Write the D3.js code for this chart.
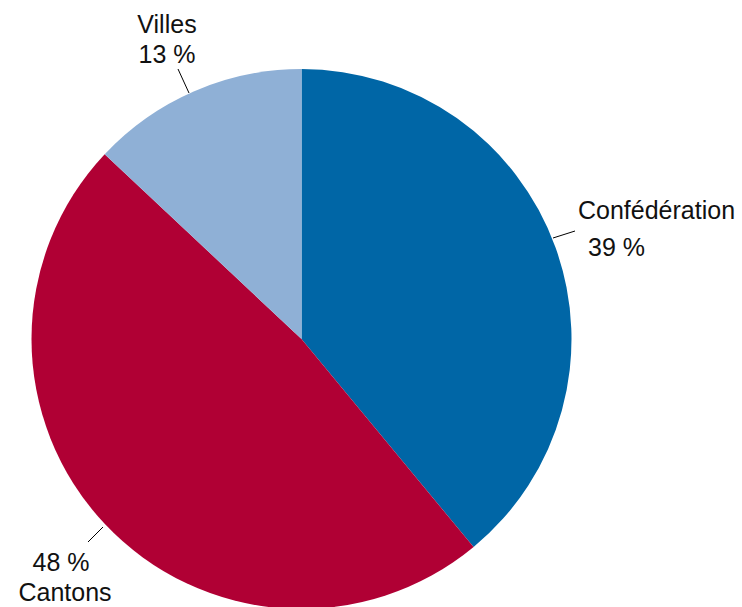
<!DOCTYPE html>
<html><head><meta charset="utf-8">
<script src="https://cdn.jsdelivr.net/npm/d3@7"></script>
<style>html,body{margin:0;padding:0;background:#fff;overflow:hidden}</style>
</head><body>
<svg id="chart" width="742" height="607"></svg>
<script>
const categories = ["Confédération", "Cantons", "Villes"];
const values = [39, 48, 13];
const valueLabels = ["39 %", "48 %", "13 %"];
const colors = ["#0066a6", "#b00034", "#8fb0d6"];

const svg = d3.select("#chart");
const cx = 301.5, cy = 339, r = 270;
const g = svg.append("g").attr("transform", `translate(${cx},${cy})`);
const pie = d3.pie().sort(null).value(d => d.v);
const data = pie(categories.map((c, i) => ({c, v: values[i], lab: valueLabels[i], col: colors[i]})));
const arc = d3.arc().innerRadius(0).outerRadius(r);
g.selectAll("path").data(data).enter().append("path")
  .attr("d", arc).attr("fill", d => d.data.col);

const labelPos = {
  "Confédération": [{x: 578, y: 219, a: "start"}, {x: 588, y: 256, a: "start"}],
  "Cantons": [{x: 61, y: 571, a: "middle"}, {x: 65, y: 601, a: "middle"}],
  "Villes": [{x: 167, y: 33, a: "middle"}, {x: 167, y: 63, a: "middle"}]
};
const leaders = {
  "Confédération": [[553, 238], [575, 231]],
  "Cantons": [[103, 527], [88, 542]],
  "Villes": [[189, 93], [178, 69]]
};
data.forEach(d => {
  const name = d.data.c;
  const ld = leaders[name];
  svg.append("line").attr("x1", ld[0][0]).attr("y1", ld[0][1]).attr("x2", ld[1][0]).attr("y2", ld[1][1])
    .attr("stroke", "#000").attr("stroke-width", 1);
  const texts = name === "Cantons" ? [d.data.lab, name] : [name, d.data.lab];
  labelPos[name].forEach((L, i) => {
    svg.append("text").attr("x", L.x).attr("y", L.y).attr("text-anchor", L.a)
      .attr("font-family", "Liberation Sans, Arial, sans-serif").attr("font-size", 25)
      .attr("fill", "#111").text(texts[i]);
  });
});
</script>
</body></html>
